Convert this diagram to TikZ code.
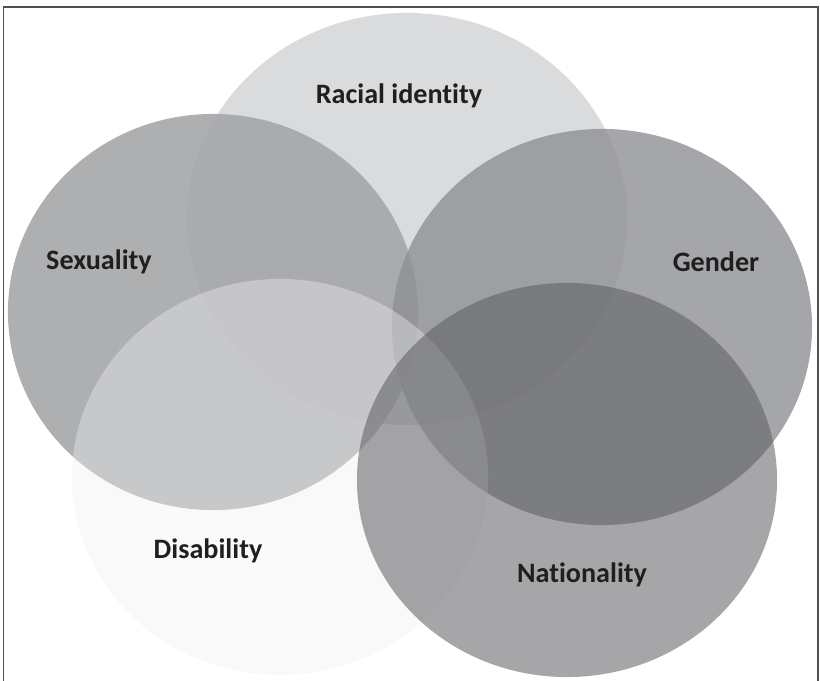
\documentclass[tikz,border=0pt]{standalone}
\usepackage{fontspec}
\setmainfont{Carlito}[Ligatures=NoCommon]
\usepackage{tikz}
\usetikzlibrary{shapes.geometric}
\definecolor{racefill}{RGB}{218,219,221}
\definecolor{sexfill}{RGB}{165,166,169}
\definecolor{genfill}{RGB}{143,144,148}
\definecolor{disfill}{RGB}{240,240,241}
\definecolor{natfill}{RGB}{90,91,95}
\definecolor{framegray}{RGB}{80,80,80}

\begin{document}
\begin{tikzpicture}[x=0.025cm,y=-0.025cm,
  set/.style={ellipse,draw=none,inner sep=0pt,outer sep=0pt},
  lbl/.style={font=\bfseries\fontsize{20}{24}\selectfont,text=black!88,inner sep=0pt}]
  \useasboundingbox (0,0) rectangle (820,681);
  % the five sets, back to front
  \node[set,fill=racefill,minimum width=11cm,minimum height=10.3cm] (race) at (407,219) {};
  \node[set,fill=sexfill,fill opacity=0.9,minimum width=10.25cm,minimum height=9.9cm] (sex) at (213,312) {};
  \node[set,fill=genfill,fill opacity=0.8,minimum width=10.5cm,minimum height=9.9cm] (gen) at (602,327) {};
  \node[set,fill=disfill,fill opacity=0.4,minimum width=10.4cm,minimum height=9.9cm] (dis) at (280,477) {};
  \node[set,fill=natfill,fill opacity=0.54,minimum width=10.5cm,minimum height=9.85cm] (nat) at (567,480) {};
  % labels
  \node[lbl] (racelbl) at (399,96) {Racial identity};
  \node[lbl] (sexlbl)  at (99,262) {Sexuality};
  \node[lbl] (genlbl)  at (716,262) {Gender};
  \node[lbl] (dislbl)  at (208,551) {Disability};
  \node[lbl] (natlbl)  at (582,575) {Nationality};
  % frame, open at the bottom
  \draw[framegray,line width=1.1pt] (3.5,681) -- (3.5,7) -- (818,7) -- (818,681);
\end{tikzpicture}
\end{document}
